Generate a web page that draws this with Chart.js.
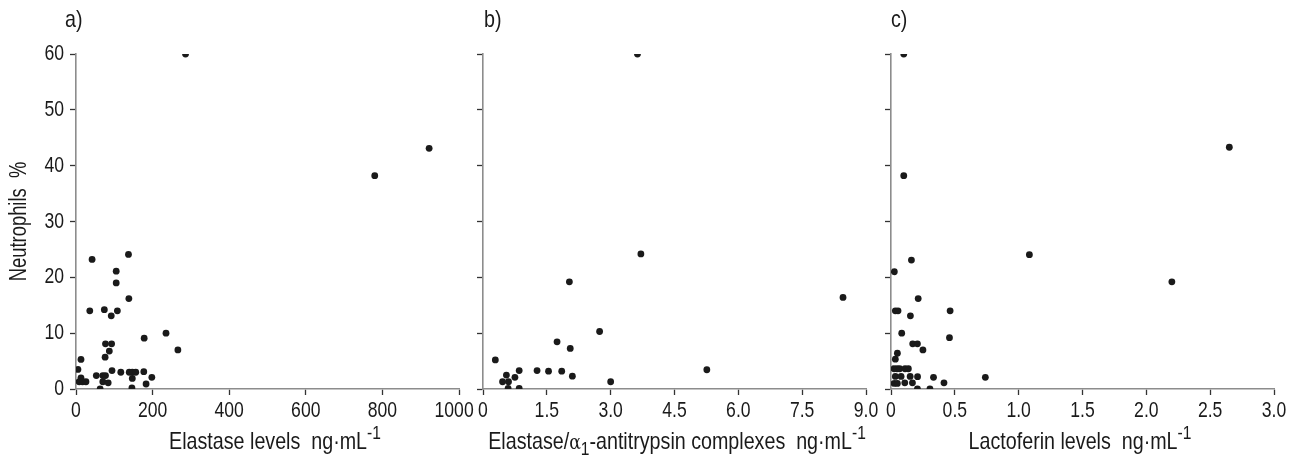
<!DOCTYPE html>
<html>
<head>
<meta charset="utf-8">
<script src="https://cdn.jsdelivr.net/npm/chart.js@4"></script>
<style>
  body { margin: 0; background: #fff; }
  #wrap { position: relative; width: 1294px; height: 463px; overflow: hidden; }
  #wrap canvas { position: absolute; left: 0; top: 0; }
  .lbl { position: absolute; font-family: "Liberation Sans", Arial, sans-serif; color: #1a1a1a; white-space: nowrap; }
  .panel { font-size: 24px; transform: scaleX(0.82); transform-origin: left top; }
  .xt { font-size: 24px; transform: translateX(-50%) scaleX(0.82); }
  .xt sup { font-size: 19px; vertical-align: 10px; line-height: 0; }
  .xt sub { font-size: 19px; vertical-align: -6px; line-height: 0; }
  .alpha { font-family: "DejaVu Serif", serif; font-size: 21px; }
</style>
</head>
<body>
<div id="wrap">
  <canvas id="chartA" width="1294" height="463"></canvas>
  <canvas id="chartB" width="1294" height="463"></canvas>
  <canvas id="chartC" width="1294" height="463"></canvas>
  <div class="lbl panel" style="left:65px; top:5px;">a)</div>
  <div class="lbl panel" style="left:484px; top:5px;">b)</div>
  <div class="lbl panel" style="left:891px; top:5px;">c)</div>
  <div class="lbl xt" style="left:275px; top:427px;">Elastase levels&nbsp; ng·mL<sup>-1</sup></div>
  <div class="lbl xt" style="left:677px; top:427px;">Elastase/<span class="alpha">α</span><sub>1</sub>-antitrypsin complexes&nbsp; ng·mL<sup>-1</sup></div>
  <div class="lbl xt" style="left:1080px; top:427px;">Lactoferin levels&nbsp; ng·mL<sup>-1</sup></div>
</div>
<script>
// a) elastase levels vs neutrophils %
var elastaseX = [286, 780, 922, 42, 137, 105, 105, 138, 36, 74, 108, 92, 235, 178, 266, 77, 93, 87, 76, 13,
                 5, 13, 8, 17, 26, 53, 70, 77, 63, 70, 84, 94, 117, 139, 147, 156, 147, 146, 177, 183, 198];
var elastaseY = [60, 38.2, 43.1, 23.2, 24.1, 21.1, 19.0, 16.2, 14.0, 14.2, 14.0, 13.1, 10.0, 9.1, 7.0, 8.1, 8.1, 6.8, 5.7, 5.3,
                 3.5, 2.0, 1.3, 1.3, 1.3, 2.4, 2.4, 2.4, 0, 1.3, 1.1, 3.3, 3.0, 3.0, 3.0, 3.0, 1.9, 0.2, 3.1, 0.9, 2.1];

// b) elastase/alpha1-antitrypsin complexes vs neutrophils %
var complexX = [3.63, 3.71, 2.03, 8.46, 2.74, 1.74, 2.05, 0.29, 0.55, 0.75, 0.85, 0.46, 0.60, 0.59, 0.85,
                1.27, 1.54, 1.85, 2.10, 3.0, 5.26];
var complexY = [60, 24.2, 19.2, 16.4, 10.3, 8.45, 7.26, 5.2, 2.5, 2.1, 3.3, 1.3, 1.3, 0.1, 0.1,
                3.3, 3.2, 3.2, 2.3, 1.3, 3.45];

// c) lactoferin levels vs neutrophils %
var lactoX = [0.10, 0.10, 2.65, 1.084, 2.20, 0.16, 0.026, 0.213, 0.034, 0.055, 0.463, 0.152, 0.084, 0.458,
              0.17, 0.207, 0.25, 0.05, 0.034, 0.023, 0.047, 0.068, 0.11, 0.136, 0.034, 0.079, 0.15, 0.208,
              0.333, 0.739, 0.024, 0.05, 0.108, 0.168, 0.415, 0.207, 0.305];
var lactoY = [60, 38.2, 43.3, 24.05, 19.2, 23.1, 21.0, 16.2, 14.0, 14.0, 14.0, 13.1, 10.0, 9.2,
              8.1, 8.1, 7.0, 6.4, 5.35, 3.63, 3.63, 3.63, 3.63, 3.63, 2.26, 2.26, 2.26, 2.2,
              2.1, 2.1, 1.0, 1.0, 1.1, 1.1, 1.1, 0, 0];

var yMin = 0, yMax = 60, yStep = 10;

var FONT = '"Liberation Sans", Arial, sans-serif';
var W = 1294, H = 463;

// no narrow font installed, so squeeze canvas text horizontally (like Helvetica Condensed in the original)
function condense(ctx, k) {
    var orig = ctx.fillText;
    ctx.fillText = function (t, x, y) {
        this.save();
        this.translate(x, y);
        this.scale(k, 1);
        orig.call(this, t, 0, 0);
        this.restore();
    };
}

function toPoints(xs, ys) {
    var pts = [];
    for (var i = 0; i < xs.length; i++) pts.push({ x: xs[i], y: ys[i] });
    return pts;
}

function fmtDec(v) { return v === 0 ? '0' : v.toFixed(1); }
// last label of panel a is nudged left a little so it doesn't run into panel b's "0"
function fmtInt(v) { return v === 1000 ? '1000  ' : String(v); }

// left/right = chart area edges in px, yAxisW = width reserved for the y axis
function makePanel(id, xs, ys, xMax, xStep, xFmt, left, right, yAxisW, showYLabels) {
    var ctx = document.getElementById(id).getContext('2d');
    condense(ctx, 0.8);
    return new Chart(ctx, {
        type: 'scatter',
        data: {
            datasets: [{
                data: toPoints(xs, ys),
                pointRadius: 3.4,
                pointHoverRadius: 3.4,
                backgroundColor: '#1a1a1a',
                borderWidth: 0
            }]
        },
        options: {
            responsive: false,
            animation: false,
            events: [],
            layout: { padding: { left: left - yAxisW, right: W - right, top: 54, bottom: H - 389 - 40 } },
            plugins: { legend: { display: false }, tooltip: { enabled: false } },
            scales: {
                x: {
                    type: 'linear', min: 0, max: xMax,
                    ticks: { stepSize: xStep, color: '#1a1a1a', padding: 3, maxRotation: 0, autoSkip: false,
                             font: { family: FONT, size: 22 }, callback: xFmt },
                    grid: { drawOnChartArea: false, drawTicks: true, tickLength: 6, tickColor: '#333', tickWidth: 1.3 },
                    border: { display: true, color: '#8c8c8c', width: 1.6 },
                    afterFit: function (s) { s.height = 40; s.paddingLeft = 0; s.paddingRight = 0; }
                },
                y: {
                    type: 'linear', min: yMin, max: yMax,
                    ticks: { stepSize: yStep, color: '#1a1a1a', padding: 6,
                             font: { family: FONT, size: 22 },
                             callback: function (v) { return showYLabels ? v : ''; } },
                    grid: { drawOnChartArea: false, drawTicks: true, tickLength: 6, tickColor: '#333', tickWidth: 1.3 },
                    border: { display: true, color: '#8c8c8c', width: 1.6 },
                    title: { display: showYLabels, text: 'Neutrophils  %', color: '#1a1a1a',
                             font: { family: FONT, size: 23 }, padding: { top: 6, bottom: 0 } },
                    afterFit: function (s) { s.width = yAxisW; s.paddingTop = 0; s.paddingBottom = 0; }
                }
            }
        }
    });
}

makePanel('chartA', elastaseX, elastaseY, 1000, 200, fmtInt, 76, 459, 76, true);
makePanel('chartB', complexX, complexY, 9, 1.5, fmtDec, 483, 866, 20, false);
makePanel('chartC', lactoX, lactoY, 3, 0.5, fmtDec, 891, 1274, 20, false);
</script>
</body>
</html>
